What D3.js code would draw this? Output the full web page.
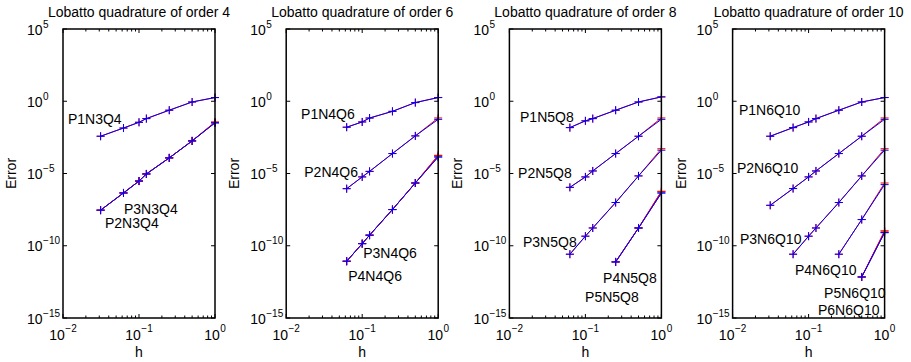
<!DOCTYPE html>
<html>
<head>
<meta charset="utf-8">
<script src="https://cdn.jsdelivr.net/npm/d3@7"></script>
<style>
  body { margin: 0; background: #fff; }
  text { font-family: Arial, "Liberation Sans", Helvetica, sans-serif; fill: #000; }
</style>
</head>
<body>
<svg id="chart" width="911" height="362"></svg>
<script>
// panel titles and mesh sizes
const titles = ["Lobatto quadrature of order 4", "Lobatto quadrature of order 6",
  "Lobatto quadrature of order 8", "Lobatto quadrature of order 10"];
const hSteps = [1, 0.5, 0.25, 0.125, 0.1, 0.0625, 0.03125];

// error values (blue series), ordered like hSteps
const P1N3Q4 = [1.8, 8.9e-1, 2.4e-1, 6.3e-2, 3.5e-2, 1.4e-2, 3.8e-3];
const P2N3Q4 = [3.2e-2, 1.8e-3, 1.2e-4, 9.3e-6, 3.0e-6, 4.5e-7, 2.9e-8];
const P3N3Q4 = [3.2e-2, 1.8e-3, 1.2e-4, 9.3e-6, 3.0e-6, 4.5e-7, 2.9e-8];

const P1N4Q6 = [1.8, 8.1e-1, 2.0e-1, 6.9e-2, 3.7e-2, 1.6e-2];
const P2N4Q6 = [5.6e-2, 4.0e-3, 2.4e-4, 1.4e-5, 5.8e-6, 8.9e-7];
const P3N4Q6 = [1.4e-4, 2.2e-6, 3.2e-8, 5.4e-10, 1.4e-10, 8.5e-12];
const P4N4Q6 = [1.4e-4, 2.2e-6, 3.2e-8, 5.4e-10, 1.4e-10, 8.5e-12];

const P1N5Q8 = [2.0, 8.9e-1, 2.4e-1, 6.3e-2, 4.4e-2, 1.5e-2];
const P2N5Q8 = [5.6e-2, 3.8e-3, 2.4e-4, 1.5e-5, 5.8e-6, 1.1e-6];
const P3N5Q8 = [4.1e-4, 6.8e-6, 9.8e-8, 1.7e-9, 4.6e-10, 2.6e-11];
const P4N5Q8 = [4.5e-7, 1.7e-9, 7.6e-12];
const P5N5Q8 = [4.5e-7, 1.7e-9, 7.6e-12];

const P1N6Q10 = [1.8, 8.9e-1, 2.4e-1, 6.3e-2, 3.7e-2, 1.5e-2, 3.8e-3];
const P2N6Q10 = [5.6e-2, 3.8e-3, 2.4e-4, 1.5e-5, 5.8e-6, 9.1e-7, 6.3e-8];
const P3N6Q10 = [4.1e-4, 6.8e-6, 9.8e-8, 1.7e-9, 4.6e-10, 2.6e-11];
const P4N6Q10 = [1.7e-6, 6.5e-9, 2.6e-11];
const P5N6Q10 = [8.1e-10, 6.9e-13];
const P6N6Q10 = [8.1e-10, 6.9e-13];

// red reference series differs only at h = 1 (value at h = 1 for each curve)
const redFirst = {
  P1N3Q4: 1.8, P2N3Q4: 3.6e-2, P3N3Q4: 3.6e-2,
  P1N4Q6: 1.8, P2N4Q6: 7.0e-2, P3N4Q6: 1.8e-4, P4N4Q6: 1.8e-4,
  P1N5Q8: 2.0, P2N5Q8: 7.0e-2, P3N5Q8: 5.2e-4, P4N5Q8: 5.8e-7, P5N5Q8: 5.8e-7,
  P1N6Q10: 1.8, P2N6Q10: 7.0e-2, P3N6Q10: 5.2e-4, P4N6Q10: 2.2e-6, P5N6Q10: 1.05e-9, P6N6Q10: 1.05e-9
};

// label anchors in data space: [text, h, error]
const labels4 = [["P1N3Q4", 0.0116, 2.7e-2], ["P3N3Q4", 0.0635, 1.6e-8], ["P2N3Q4", 0.0357, 1.7e-9]];
const labels6 = [["P1N4Q6", 0.0157, 5.9e-2], ["P2N4Q6", 0.0173, 6.0e-6],
  ["P3N4Q6", 0.103, 1.4e-11], ["P4N4Q6", 0.0655, 3.8e-13]];
const labels8 = [["P1N5Q8", 0.0138, 3.8e-2], ["P2N5Q8", 0.0130, 4.9e-6], ["P3N5Q8", 0.0151, 8.5e-11],
  ["P4N5Q8", 0.171, 2.5e-13], ["P5N5Q8", 0.099, 1.3e-14]];
const labels10 = [["P1N6Q10", 0.0121, 1.1e-1], ["P2N6Q10", 0.0114, 1.1e-5], ["P3N6Q10", 0.0125, 1.3e-10],
  ["P4N6Q10", 0.0662, 9.5e-13], ["P5N6Q10", 0.160, 2.3e-14], ["P6N6Q10", 0.133, 1.6e-15]];

const yTickExp = [5, 0, -5, -10, -15];
const xTickExp = [-2, -1, 0];

const panels = [
  { title: titles[0], labels: labels4,
    curves: { P1N3Q4, P2N3Q4, P3N3Q4 } },
  { title: titles[1], labels: labels6,
    curves: { P1N4Q6, P2N4Q6, P3N4Q6, P4N4Q6 } },
  { title: titles[2], labels: labels8,
    curves: { P1N5Q8, P2N5Q8, P3N5Q8, P4N5Q8, P5N5Q8 } },
  { title: titles[3], labels: labels10,
    curves: { P1N6Q10, P2N6Q10, P3N6Q10, P4N6Q10, P5N6Q10, P6N6Q10 } }
];

// layout
const left0 = 63, step = 223.2, pw = 152, plotTop = 29, plotBottom = 318;
const svg = d3.select("#chart");
const minus = s => String(s).replace("-", "\u2212");

function plus(x, y, r) {
  return `M${x - r},${y}H${x + r}M${x},${y - r}V${y + r}`;
}

panels.forEach(function (p, i) {
  const x0 = left0 + i * step;
  const x = d3.scaleLog().domain([1e-2, 1]).range([x0, x0 + pw]);
  const y = d3.scaleLog().domain([1e-15, 1e5]).range([plotBottom, plotTop]);
  const g = svg.append("g");

  // title
  g.append("text")
    .attr("x", x0 + pw / 2).attr("y", 17)
    .attr("text-anchor", "middle")
    .style("font-size", "14px")
    .text(p.title);

  // y ticks + labels
  yTickExp.forEach(function (e) {
    const yy = y(Math.pow(10, e));
    g.append("path").attr("d", `M${x0},${yy}h4M${x0 + pw},${yy}h-4`)
      .attr("stroke", "#000").attr("stroke-width", 1);
    const t = g.append("text").attr("x", x0 - 36).attr("y", yy + 5.5)
      .style("font-size", "14px");
    t.append("tspan").text("10");
    t.append("tspan").attr("dy", -7).attr("dx", 0.5).style("font-size", "10px").text(minus(e));
  });

  // x ticks (major + minor, bottom and top)
  xTickExp.forEach(function (e) {
    const xx = x(Math.pow(10, e));
    g.append("path").attr("d", `M${xx},${plotBottom}v-4M${xx},${plotTop}v4`)
      .attr("stroke", "#000").attr("stroke-width", 1);
    const t = g.append("text").attr("x", xx).attr("y", 340)
      .attr("text-anchor", "middle").style("font-size", "14px");
    t.append("tspan").text("10");
    t.append("tspan").attr("dy", -8).attr("dx", 0.5).style("font-size", "10px").text(minus(e));
    if (e < 0) {
      d3.range(2, 10).forEach(function (k) {
        const xm = x(k * Math.pow(10, e));
        g.append("path").attr("d", `M${xm},${plotBottom}v-2.5M${xm},${plotTop}v2.5`)
          .attr("stroke", "#000").attr("stroke-width", 1);
      });
    }
  });

  // axis labels
  g.append("text").attr("x", x0 + pw / 2).attr("y", 357)
    .attr("text-anchor", "middle").style("font-size", "14px").text("h");
  g.append("text")
    .attr("transform", `translate(${x0 - 47},${(plotTop + plotBottom) / 2}) rotate(-90)`)
    .attr("text-anchor", "middle").style("font-size", "14px").text("Error");

  // curves: red reference then blue on top
  const line = d3.line().x(d => x(d[0])).y(d => y(d[1]));
  Object.keys(p.curves).forEach(function (name) {
    const err = p.curves[name];
    const blue = err.map((v, j) => [hSteps[j], v]);
    const red = blue.map((d, j) => j === 0 ? [d[0], redFirst[name]] : d);
    [[red, "#ff0000"], [blue, "#0000ff"]].forEach(function (s) {
      g.append("path").attr("d", line(s[0]))
        .attr("fill", "none").attr("stroke", s[1]).attr("stroke-width", 1);
      g.append("path")
        .attr("d", s[0].map(d => plus(x(d[0]), y(d[1]), 4)).join(""))
        .attr("fill", "none").attr("stroke", s[1]).attr("stroke-width", 1);
    });
  });

  // curve labels
  p.labels.forEach(function (l) {
    g.append("text").attr("x", x(l[1])).attr("y", y(l[2]))
      .style("font-size", "14px").text(l[0]);
  });

  // box
  g.append("rect").attr("x", x0).attr("y", plotTop).attr("width", pw).attr("height", plotBottom - plotTop)
    .attr("fill", "none").attr("stroke", "#000").attr("stroke-width", 1.5);
});
</script>
</body>
</html>
